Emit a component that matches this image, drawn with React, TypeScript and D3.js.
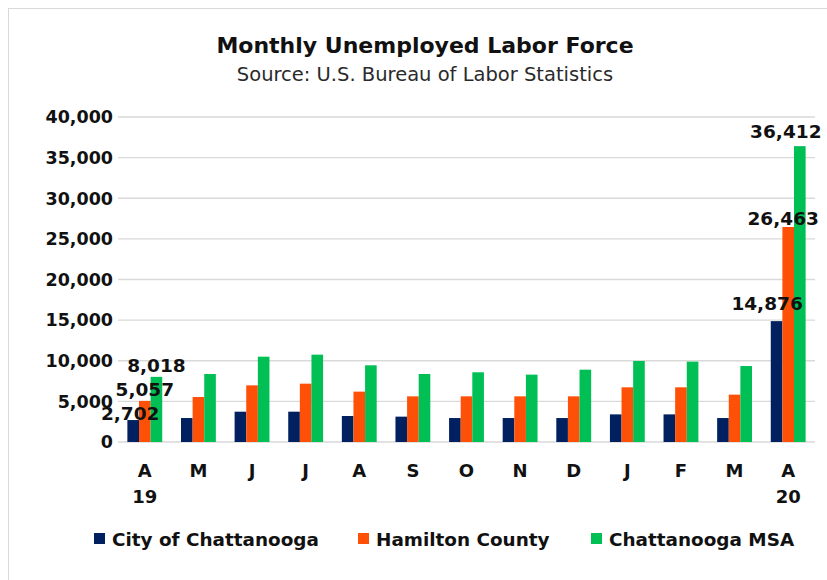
import React from "react";
import * as d3 from "d3";

const months = ["A", "M", "J", "J", "A", "S", "O", "N", "D", "J", "F", "M", "A"];
const years = ["19", "", "", "", "", "", "", "", "", "", "", "", "20"];
const seriesNames = ["City of Chattanooga", "Hamilton County", "Chattanooga MSA"];
const cityValues = [2702, 2950, 3730, 3730, 3200, 3120, 2950, 2950, 2950, 3400, 3400, 2950, 14876];
const hamiltonValues = [5057, 5540, 6970, 7180, 6200, 5620, 5620, 5620, 5620, 6730, 6730, 5830, 26463];
const msaValues = [8018, 8370, 10500, 10750, 9440, 8370, 8580, 8290, 8900, 9970, 9890, 9350, 36412];
const yTicks = [0, 5000, 10000, 15000, 20000, 25000, 30000, 35000, 40000];
const labeledMonths = [0, 12];

// label nudges (dx, dy) per labeled month and series, for placement only
const labelNudges = [
  [[-3, 0], [0, -5], [0, -5]],
  [[-9.5, -11], [-5, -2], [-14, -8]],
];

const colors = ["#002060", "#FF5008", "#00BF55"];
const FONT = "'DejaVu Sans', sans-serif";

export default function App() {
  const W = 827, H = 580;
  const left = 118, right = 815, top = 117, bottom = 442;
  const series = [cityValues, hamiltonValues, msaValues];
  const x = d3.scaleBand<number>().domain(d3.range(months.length)).range([left, right]).paddingInner(0.35).paddingOuter(0.175);
  const xs = d3.scaleBand<number>().domain([0, 1, 2]).range([0, x.bandwidth()]).padding(0);
  const y = d3.scaleLinear().domain([0, 40000]).range([bottom, top]);
  const fmt = d3.format(",");

  const legendX = [94, 358, 591];

  return (
    <svg width={W} height={H} style={{ position: "absolute", left: 0, top: 0, background: "#fff" }}>
      <rect x={8.5} y={8.5} width={900} height={700} fill="#fff" stroke="#d9d9d9" />
      <text x={425} y={53} textAnchor="middle" fontFamily={FONT} fontWeight="bold" fontSize={22} fill="#111">
        Monthly Unemployed Labor Force
      </text>
      <text x={425} y={81} textAnchor="middle" fontFamily={FONT} fontSize={19.5} fill="#2a2a2a">
        Source: U.S. Bureau of Labor Statistics
      </text>
      {yTicks.map((t) => (
        <g key={t}>
          <line x1={left} x2={right} y1={y(t)} y2={y(t)} stroke="#d9d9d9" strokeWidth={1.3} />
          <text x={113} y={y(t)} dy="0.36em" textAnchor="end" fontFamily={FONT} fontWeight="bold" fontSize={17.5} fill="#111">
            {fmt(t)}
          </text>
        </g>
      ))}
      {months.map((m, i) => (
        <g key={i}>
          {series.map((vals, s) => (
            <rect
              key={s}
              x={(x(i) as number) + (xs(s) as number)}
              y={y(vals[i])}
              width={xs.bandwidth()}
              height={bottom - y(vals[i])}
              fill={colors[s]}
            />
          ))}
          <text x={(x(i) as number) + x.bandwidth() / 2} y={477} textAnchor="middle" fontFamily={FONT} fontWeight="bold" fontSize={18} fill="#111">
            {m}
          </text>
          {years[i] && (
            <text x={(x(i) as number) + x.bandwidth() / 2} y={503} textAnchor="middle" fontFamily={FONT} fontWeight="bold" fontSize={18} fill="#111">
              {years[i]}
            </text>
          )}
        </g>
      ))}
      {labeledMonths.map((i, li) =>
        series.map((vals, s) => {
          const txt = fmt(vals[i]);
          const cx = (x(i) as number) + (xs(s) as number) + xs.bandwidth() / 2;
          const [dx, dy] = labelNudges[li][s];
          return (
            <text key={`${i}-${s}`} x={cx + dx} y={y(vals[i]) + dy} textAnchor="middle" fontFamily={FONT} fontWeight="bold" fontSize={18.5} fill="#111">
              {txt}
            </text>
          );
        })
      )}
      {seriesNames.map((n, s) => (
        <g key={n}>
          <rect x={legendX[s]} y={533} width={11} height={11} fill={colors[s]} />
          <text x={legendX[s] + 18} y={546} fontFamily={FONT} fontWeight="bold" fontSize={18.4} fill="#111">
            {n}
          </text>
        </g>
      ))}
    </svg>
  );
}
